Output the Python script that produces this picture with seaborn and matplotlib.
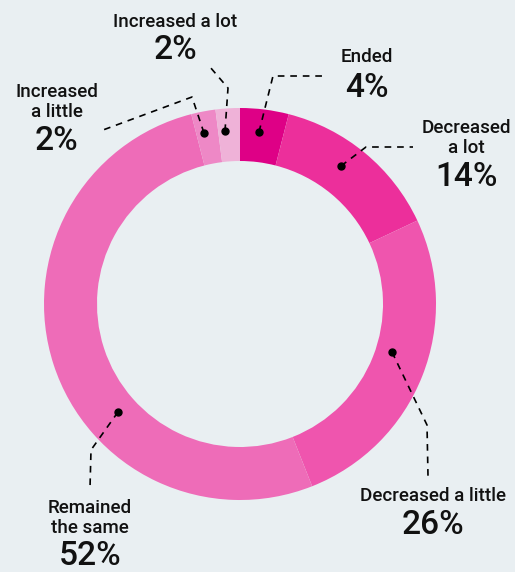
import matplotlib
matplotlib.use("Agg")
import matplotlib.pyplot as plt
import seaborn as sns

# Share of respondents by change
categories = ["Ended", "Decreased a lot", "Decreased a little",
              "Remained the same", "Increased a little", "Increased a lot"]
shares = [4, 14, 26, 52, 2, 2]
label_texts = ["Ended", "Decreased\na lot", "Decreased a little",
               "Remained\nthe same", "Increased\na little", "Increased a lot"]

colors = ["#de0086", "#ec2f9b", "#ef55ae", "#ee6cb8", "#ee88c6", "#efb2d8"]
BG = "#e9eff2"

sns.set_theme(style="white")
plt.rcParams["font.family"] = ["Roboto", "DejaVu Sans"]

W, H = 515, 572
fig = plt.figure(figsize=(W / 100, H / 100), dpi=100, facecolor=BG)
ax = fig.add_axes([0, 0, 1, 1])
ax.set_facecolor(BG)

cx, cy = 240, H - 304
R, ring = 196, 53
ax.pie(shares, colors=colors, startangle=90, counterclock=False,
       radius=R, center=(cx, cy), frame=True,
       wedgeprops=dict(width=ring, linewidth=0))
ax.set_xlim(0, W)
ax.set_ylim(0, H)
ax.set_axis_off()

# Label layout in pixel coordinates (top-left origin):
# leader path (dot first), label centre, percentage centre
layout = {
    "Ended": ([(259, 132), (273, 76), (327, 76)], (367, 57), (367, 88)),
    "Decreased a lot": ([(341, 166), (366, 147), (413, 147)], (466, 138), (466, 177)),
    "Decreased a little": ([(392, 352), (427, 425), (428, 476)], (433, 496), (433, 525)),
    "Remained the same": ([(118, 412), (91, 450), (90, 488)], (90, 518), (90, 556)),
    "Increased a little": ([(204, 133), (192, 97), (103, 130)], (57, 102), (56, 141)),
    "Increased a lot": ([(225, 131), (228, 88), (210, 67)], (175, 22), (175, 50)),
}

for cat, text, val in zip(categories, label_texts, shares):
    path, lab, pct = layout[cat]
    xs = [p[0] for p in path]
    ys = [H - p[1] for p in path]
    ax.plot(xs, ys, color="black", lw=1.2, ls=(0, (4, 3.5)))
    ax.plot(xs[0], ys[0], "o", color="black", ms=5)
    ax.text(lab[0], H - lab[1], text, ha="center", va="center",
            fontsize=13.5, fontweight="medium", color="#111111",
            linespacing=1.15)
    ax.text(pct[0], H - pct[1], f"{val}%", ha="center", va="center",
            fontsize=24, fontweight="medium", color="#111111")

fig.savefig("out.png", dpi=100, facecolor=BG)
